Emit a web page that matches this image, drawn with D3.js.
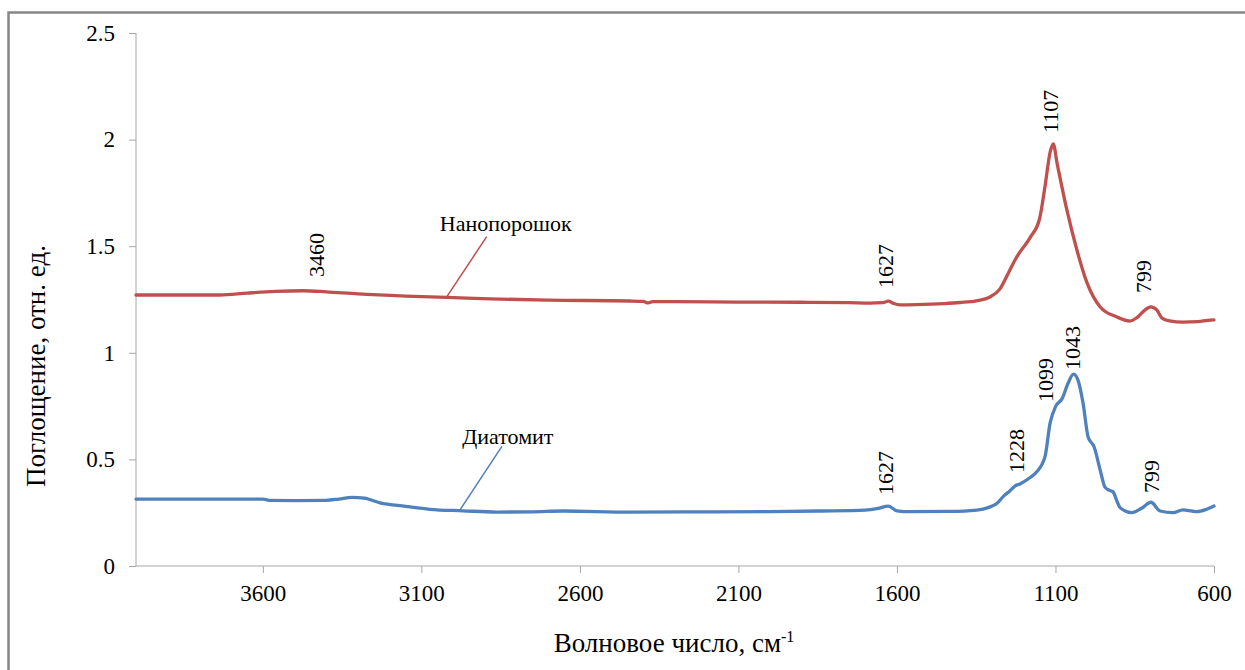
<!DOCTYPE html>
<html>
<head>
<meta charset="utf-8">
<script src="https://cdn.jsdelivr.net/npm/d3@7"></script>
<style>
  html, body { margin: 0; padding: 0; background: #fff; }
  svg { display: block; }
</style>
</head>
<body>
<svg id="chart" width="1245" height="670"></svg>
<script>
// IR absorption spectra: wavenumber (cm^-1) and absorbance (rel. units)
const nanoWave = [4000, 3800, 3735, 3650, 3560, 3473, 3400, 3300, 3150, 3019, 2883, 2700, 2442, 2400, 2385, 2370, 2300, 2100, 1906, 1750, 1685, 1645, 1627, 1610, 1590, 1540, 1450, 1401, 1350, 1307, 1275, 1250, 1222, 1180, 1150, 1133, 1117, 1107, 1095, 1064, 1032, 1001, 959, 906, 865, 843, 820, 799, 780, 764, 740, 698, 650, 620, 600];
const nanoAbs  = [1.271, 1.271, 1.271, 1.280, 1.288, 1.291, 1.286, 1.276, 1.266, 1.260, 1.253, 1.247, 1.243, 1.241, 1.234, 1.240, 1.240, 1.238, 1.237, 1.235, 1.233, 1.235, 1.242, 1.231, 1.225, 1.226, 1.231, 1.236, 1.244, 1.262, 1.300, 1.370, 1.450, 1.540, 1.630, 1.780, 1.940, 1.980, 1.890, 1.670, 1.480, 1.330, 1.215, 1.168, 1.149, 1.165, 1.198, 1.215, 1.200, 1.163, 1.150, 1.144, 1.146, 1.152, 1.154];

const diatWave = [4000, 3800, 3600, 3580, 3500, 3400, 3360, 3319, 3280, 3230, 3150, 3073, 2969, 2862, 2750, 2653, 2442, 2200, 2000, 1843, 1700, 1660, 1627, 1600, 1560, 1433, 1348, 1310, 1285, 1262, 1244, 1228, 1212, 1180, 1159, 1133, 1117, 1099, 1079, 1060, 1043, 1029, 1013, 997, 978, 959, 944, 930, 919, 905, 897, 860, 827, 799, 770, 729, 698, 670, 654, 625, 600];
const diatAbs  = [0.314, 0.314, 0.314, 0.308, 0.307, 0.308, 0.314, 0.322, 0.318, 0.296, 0.280, 0.266, 0.259, 0.253, 0.254, 0.258, 0.253, 0.254, 0.255, 0.258, 0.262, 0.270, 0.281, 0.259, 0.255, 0.256, 0.262, 0.275, 0.293, 0.330, 0.352, 0.375, 0.385, 0.415, 0.442, 0.513, 0.670, 0.750, 0.785, 0.858, 0.900, 0.872, 0.764, 0.605, 0.558, 0.450, 0.370, 0.355, 0.349, 0.300, 0.275, 0.250, 0.272, 0.299, 0.258, 0.250, 0.263, 0.258, 0.255, 0.265, 0.281];

const xTicks = [3600, 3100, 2600, 2100, 1600, 1100, 600];
const yTicks = [0, 0.5, 1, 1.5, 2, 2.5];
const yTickLabels = ["0", "0.5", "1", "1.5", "2", "2.5"];

// Peak annotations: label text, anchor wavenumber, anchor absorbance (bottom of the rotated label)
const nanoPeakText = ["3460", "1627", "1107", "799"];
const nanoPeakAtW  = [3432, 1638, 1117, 824];
const nanoPeakAtA  = [1.356, 1.304, 2.031, 1.280];
const diatPeakText = ["1627", "1228", "1099", "1043", "799"];
const diatPeakAtW  = [1638, 1225, 1133, 1048, 799];
const diatPeakAtA  = [0.333, 0.436, 0.769, 0.919, 0.342];

// Series name callouts: curve point and label point, in data units
const seriesNames = ["Нанопорошок", "Диатомит"];
const calloutFromW = [3020, 2980];
const calloutFromA = [1.262, 0.259];
const calloutToW   = [2894, 2846];
const calloutToA   = [1.545, 0.561];

const colors = ["#C0504D", "#4F81BD"];
const FONT = "Liberation Serif";

const svg = d3.select("#chart")
  .attr("font-family", FONT);

// outer chart frame
svg.append("rect")
  .attr("x", 8.5).attr("y", 12.5)
  .attr("width", 1400).attr("height", 800)
  .attr("fill", "none").attr("stroke", "#868686").attr("stroke-width", 2.5);

const x = d3.scaleLinear().domain([4000, 600]).range([136, 1214]);
const y = d3.scaleLinear().domain([0, 2.5]).range([566, 33]);

const axisColor = "#A6A6A6";

// y axis
const yAxis = svg.append("g")
  .attr("transform", "translate(136,0)")
  .call(d3.axisLeft(y).tickValues(yTicks).tickSize(7).tickPadding(14)
    .tickFormat((d, i) => yTickLabels[i]));
yAxis.attr("font-family", FONT).attr("font-size", 23);
yAxis.select(".domain").attr("stroke", axisColor).attr("d", `M0,${y(2.5)}V${y(0)}`);
yAxis.selectAll(".tick line").attr("stroke", axisColor);
yAxis.selectAll(".tick text").attr("fill", "#000");

// x axis
const xAxis = svg.append("g")
  .attr("transform", "translate(0,566)")
  .call(d3.axisBottom(x).tickValues(xTicks).tickSize(7).tickPadding(12)
    .tickFormat(d3.format("d")));
xAxis.attr("font-family", FONT).attr("font-size", 23);
xAxis.select(".domain").attr("stroke", axisColor).attr("d", `M${x(4000)},0H${x(600)}`);
xAxis.selectAll(".tick line").attr("stroke", axisColor);
xAxis.selectAll(".tick text").attr("fill", "#000");

// axis titles
const xTitle = svg.append("text")
  .attr("x", 674).attr("y", 652)
  .attr("text-anchor", "middle")
  .attr("font-family", FONT)
  .attr("font-size", 27);
xTitle.append("tspan").text("Волновое число, см");
xTitle.append("tspan").attr("dy", -10).attr("font-size", 16).text("-1");

svg.append("text")
  .attr("transform", "translate(45,366) rotate(-90)")
  .attr("text-anchor", "middle")
  .attr("font-family", FONT)
  .attr("font-size", 27)
  .text("Поглощение, отн. ед.");

// spectra
const line = d3.line()
  .x(d => x(d[0]))
  .y(d => y(d[1]))
  .curve(d3.curveMonotoneX);

const series = [
  d3.zip(nanoWave, nanoAbs),
  d3.zip(diatWave, diatAbs)
];

series.forEach((pts, i) => {
  svg.append("path")
    .datum(pts)
    .attr("d", line)
    .attr("fill", "none")
    .attr("stroke", colors[i])
    .attr("stroke-width", 3.3)
    .attr("stroke-linejoin", "round")
    .attr("stroke-linecap", "round");
});

// series name callouts
seriesNames.forEach((name, i) => {
  const x0 = x(calloutFromW[i]), y0 = y(calloutFromA[i]);
  const x1 = x(calloutToW[i]), y1 = y(calloutToA[i]);
  svg.append("line")
    .attr("x1", x0).attr("y1", y0).attr("x2", x1).attr("y2", y1)
    .attr("stroke", colors[i]).attr("stroke-width", 1.5);
  svg.append("text")
    .attr("x", x1 + (i === 0 ? 19 : 6))
    .attr("y", y1 - (i === 0 ? 6 : 2))
    .attr("text-anchor", "middle")
    .attr("font-family", FONT)
    .attr("font-size", 22)
    .text(name);
});

// rotated peak labels
function peakLabels(texts, ws, as) {
  texts.forEach((t, i) => {
    svg.append("text")
      .attr("transform", `translate(${x(ws[i])},${y(as[i])}) rotate(-90)`)
      .attr("text-anchor", "start")
      .attr("dy", "0.35em")
      .attr("font-family", FONT)
      .attr("font-size", 22)
      .text(t);
  });
}
peakLabels(nanoPeakText, nanoPeakAtW, nanoPeakAtA);
peakLabels(diatPeakText, diatPeakAtW, diatPeakAtA);
</script>
</body>
</html>
